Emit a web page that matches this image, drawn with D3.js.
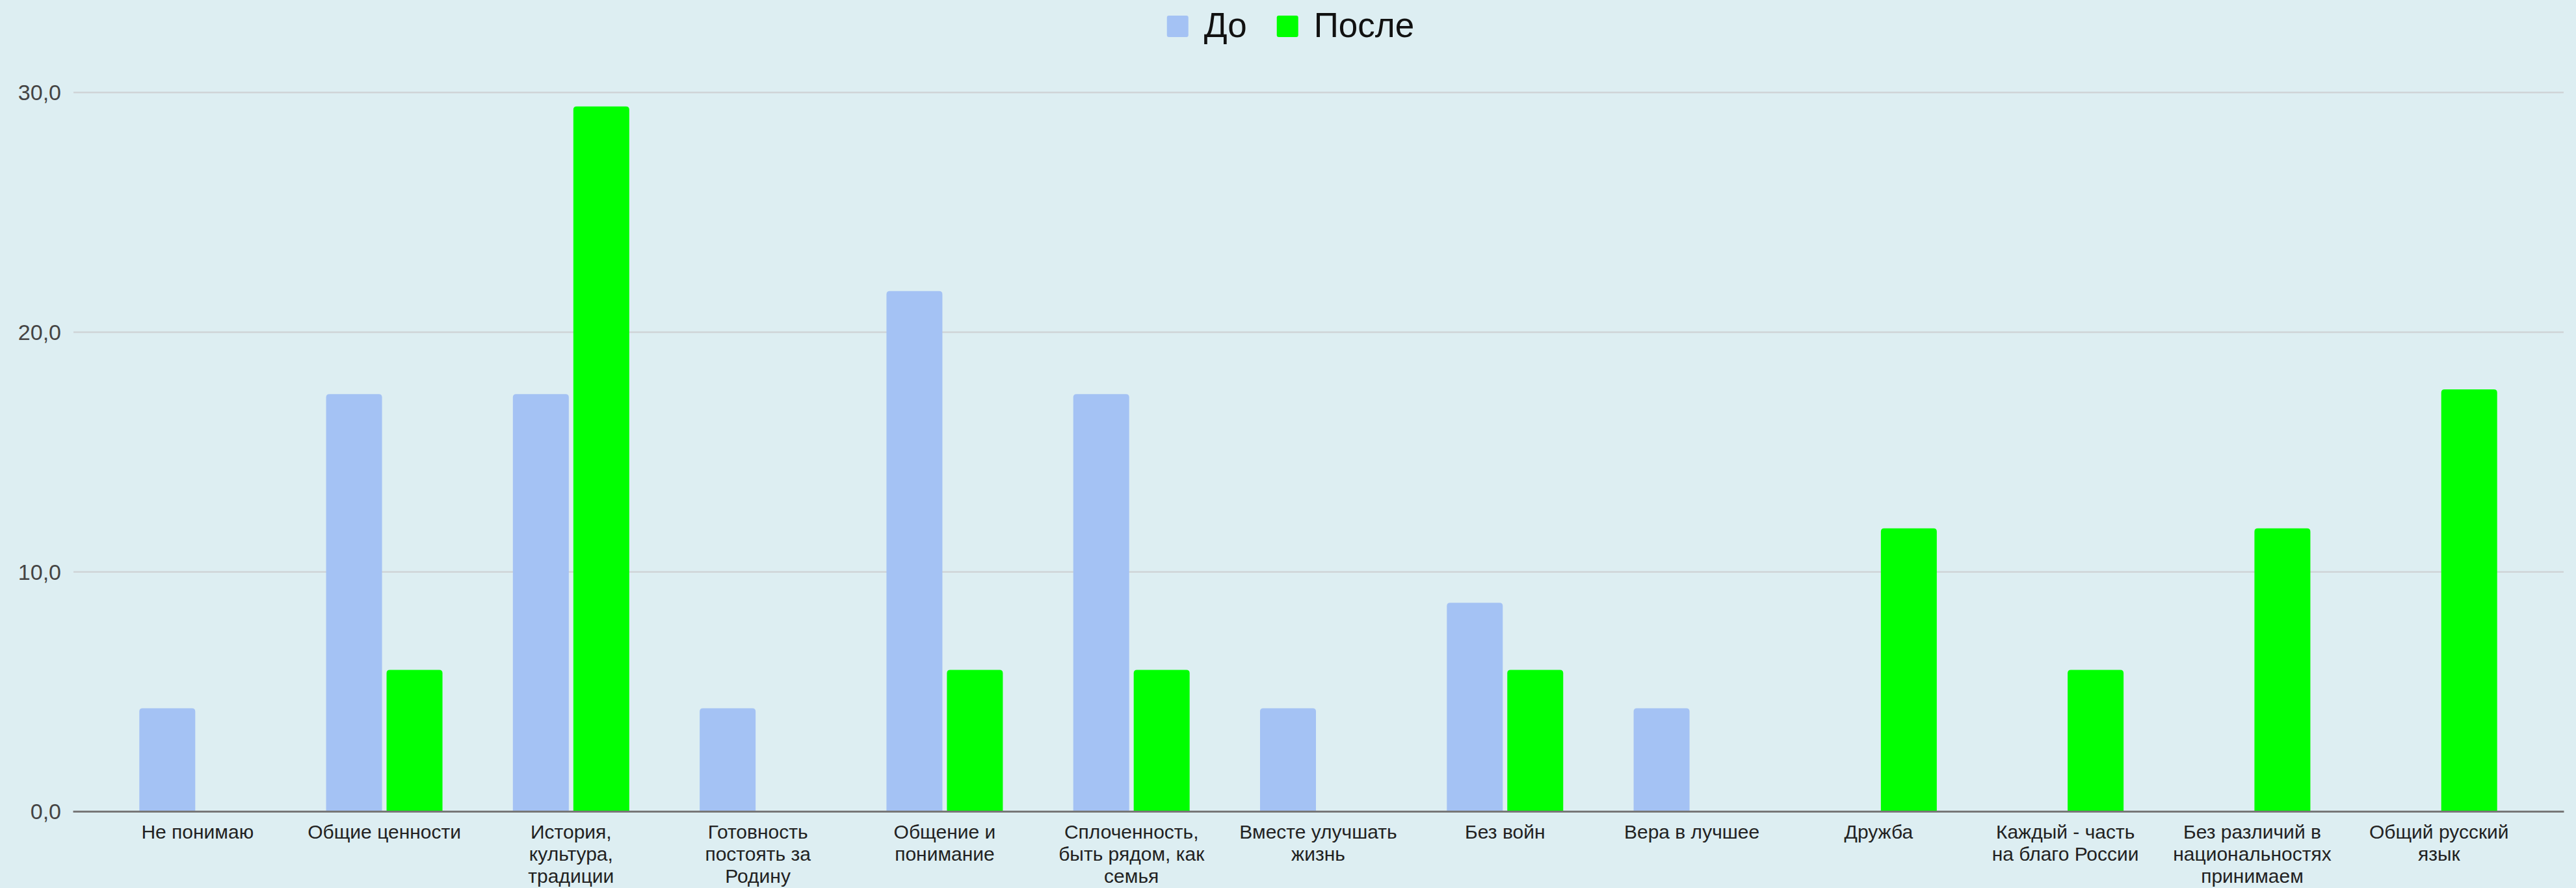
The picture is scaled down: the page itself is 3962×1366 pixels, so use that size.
<!DOCTYPE html>
<html>
<head>
<meta charset="utf-8">
<script src="https://cdn.jsdelivr.net/npm/d3@7"></script>
<style>
	html, body { margin:0; padding:0; background:#ddeef2; }
	svg { display:block; font-family:"Liberation Sans", Arial, sans-serif; }
</style>
</head>
<body>
<svg id="chart" width="3962" height="1366"></svg>
<script>
	// categories, line breaks as in the picture
	var categories = [
		"Не понимаю",
		"Общие ценности",
		"История,\nкультура,\nтрадиции",
		"Готовность\nпостоять за\nРодину",
		"Общение и\nпонимание",
		"Сплоченность,\nбыть рядом, как\nсемья",
		"Вместе улучшать\nжизнь",
		"Без войн",
		"Вера в лучшее",
		"Дружба",
		"Каждый - часть\nна благо России",
		"Без различий в\nнациональностях\nпринимаем",
		"Общий русский\nязык"
	];
	var seriesNames = ["До", "После"];
	var seriesColors = ["#a4c2f4", "#00ff00"];
	var before = [4.3, 17.4, 17.4, 4.3, 21.7, 17.4, 4.3, 8.7, 4.3, 0, 0, 0, 0];
	var after = [0, 5.9, 29.4, 0, 5.9, 5.9, 0, 5.9, 0, 11.8, 5.9, 11.8, 17.6];
	var yTicks = [0, 10, 20, 30];

	var width = 3962, height = 1366;
	var plotLeft = 112, plotRight = 3943, plotBottom = 1248, plotTop = 141.7;

	var svg = d3.select("#chart");
	svg.append("rect").attr("width",width).attr("height",height).attr("fill","#ddeef2");

	var x = d3.scaleBand().domain(d3.range(categories.length)).range([plotLeft,plotRight]).paddingInner(0.377).paddingOuter(0.356);
	var xSub = d3.scaleBand().domain(seriesNames).range([0,x.bandwidth()]).paddingInner(0.075);
	var y = d3.scaleLinear().domain([0,30]).range([plotBottom,plotTop]);
	var comma = d3.formatLocale({decimal:",",thousands:" ",grouping:[3],currency:["",""]}).format(".1f");

	// grid + y labels
	var yAxis = svg.append("g").attr("transform","translate("+(plotLeft+1)+",0)")
		.call(d3.axisLeft(y).tickValues(yTicks).tickFormat(comma).tickSize(-(plotRight-plotLeft-1)).tickPadding(19));
	yAxis.select(".domain").remove();
	yAxis.selectAll(".tick line").attr("stroke","#cfd4d7").attr("stroke-width",2.5);
	yAxis.selectAll(".tick text").attr("fill","#444").style("font-size","34px").attr("dy","0.35em");

	// bars, rounded on top
	var rows = categories.map(function(c,i){return {i:i, vals:[before[i],after[i]]}});
	function barPath(x0,w,y0,y1,r) {
		r = Math.min(r,(y0-y1)/2,w/2);
		return "M"+x0+","+y0+"V"+(y1+r)+"Q"+x0+","+y1+" "+(x0+r)+","+y1+"H"+(x0+w-r)+"Q"+(x0+w)+","+y1+" "+(x0+w)+","+(y1+r)+"V"+y0+"Z";
	}
	var groups = svg.append("g").selectAll("g").data(rows).enter().append("g")
		.attr("transform",function(d){return "translate("+x(d.i)+",0)"});
	groups.selectAll("path")
		.data(function(d){return d.vals.map(function(v,k){return {v:v,k:k}}).filter(function(e){return e.v>0})})
		.enter().append("path")
		.attr("d",function(e){return barPath(xSub(seriesNames[e.k]),xSub.bandwidth(),y(0),y(e.v),5)})
		.attr("fill",function(e){return seriesColors[e.k]});

	// x axis
	var xAxis = svg.append("g").attr("transform","translate(0,"+plotBottom+")")
		.call(d3.axisBottom(x).tickSize(0).tickSizeOuter(0).tickPadding(0));
	xAxis.select(".domain").attr("stroke","#777").attr("stroke-width",3);
	xAxis.selectAll(".tick text").each(function(i){
		var t = d3.select(this).text("").attr("y",0).attr("dy",null).attr("fill","#222").style("font-size","30px");
		categories[i].split("\n").forEach(function(line,k){
			t.append("tspan").attr("x",0).attr("y",42+k*34).text(line);
		});
	});

	// legend
	var legend = svg.append("g");
	var lx = 0;
	seriesNames.forEach(function(name,k){
		legend.append("rect").attr("x",lx).attr("y",24).attr("width",33).attr("height",33).attr("rx",3).attr("fill",seriesColors[k]);
		var t = legend.append("text").attr("x",lx+57).attr("y",57).attr("fill","#111").style("font-size","53px").text(name);
		lx += 57 + t.node().getComputedTextLength() + 46;
	});
	var lw = lx - 46;
	legend.attr("transform","translate("+(width/2 - lw/2 + 4)+",0)");
</script>
</body>
</html>
